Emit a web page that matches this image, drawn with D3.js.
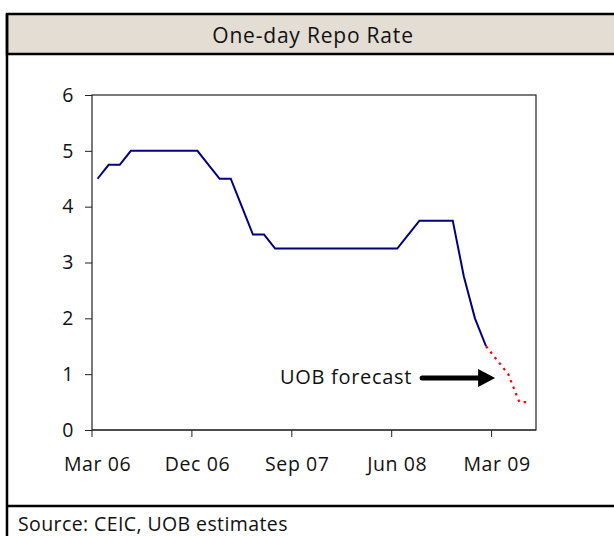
<!DOCTYPE html>
<html lang="en">
<head>
<meta charset="UTF-8">
<title>One-day Repo Rate</title>
<script src="https://d3js.org/d3.v7.min.js"></script>
<style>
  html, body { margin: 0; padding: 0; background: #fff; }
  svg { display: block; font-family: 'Open Sans', sans-serif; }
  text { fill: #111; letter-spacing: 0.6px; }
</style>
</head>
<body>
<div id="chart"></div>
<script>
  // monthly, Mar 06 .. Jun 09
  const startMonth = new Date(2006, 2, 1);
  const endMonth = new Date(2009, 6, 1);
  const tickLabels = ["Mar 06", "Dec 06", "Sep 07", "Jun 08", "Mar 09"];
  const yTicks = [0, 1, 2, 3, 4, 5, 6];

  const actual = [
    4.5, 4.75, 4.75, 5, 5, 5, 5, 5, 5, 5,
    4.75, 4.5, 4.5, 4, 3.5, 3.5, 3.25, 3.25, 3.25, 3.25,
    3.25, 3.25, 3.25, 3.25, 3.25, 3.25, 3.25, 3.25, 3.5, 3.75,
    3.75, 3.75, 3.75, 2.75, 2, 1.5
  ];
  const forecast = [1.5, 1.25, 1, 0.5, 0.5]; // from Feb 09
  const forecastStart = 35;

  const W = 614, H = 536;
  const plot = {left: 92, right: 536, top: 95, bottom: 430};

  const months = d3.timeMonth.range(startMonth, endMonth);
  const fmt = d3.timeFormat("%b %y");

  const svg = d3.select("#chart").append("svg")
    .attr("width", W).attr("height", H);

  // frame + title band
  svg.append("rect").attr("x", 7).attr("y", 14).attr("width", W).attr("height", 40)
    .attr("fill", "#e3ddd4").attr("stroke", "#000").attr("stroke-width", 2.5);
  svg.append("line").attr("x1", 7).attr("x2", 7).attr("y1", 14).attr("y2", H)
    .attr("stroke", "#000").attr("stroke-width", 2.5);
  svg.append("line").attr("x1", 7).attr("x2", W).attr("y1", 506).attr("y2", 506)
    .attr("stroke", "#000").attr("stroke-width", 2.5);

  svg.append("text").attr("x", 313).attr("y", 43).attr("text-anchor", "middle")
    .style("font-size", "21px").style("letter-spacing", "0.8px").text("One-day Repo Rate");

  svg.append("text").attr("x", 18).attr("y", 531)
    .style("font-size", "19.5px").style("letter-spacing", "0.4px").text("Source: CEIC, UOB estimates");

  const x = d3.scaleBand().domain(months.map(d => +d))
    .range([plot.left, plot.right]).padding(0);
  const y = d3.scaleLinear().domain([0, 6]).range([plot.bottom, plot.top]);
  const cx = i => x(+months[i]) + x.bandwidth() / 2;

  // plot border
  svg.append("rect").attr("x", plot.left).attr("y", plot.top)
    .attr("width", plot.right - plot.left).attr("height", plot.bottom - plot.top)
    .attr("fill", "none").attr("stroke", "#222").attr("stroke-width", 1.2);

  // y axis
  const yAxis = svg.append("g").attr("transform", `translate(${plot.left},0)`)
    .call(d3.axisLeft(y).tickValues(yTicks).tickSize(7).tickPadding(11).tickFormat(d3.format("d")));
  yAxis.select(".domain").remove();
  yAxis.selectAll("line").attr("stroke", "#222");
  yAxis.selectAll("text").style("font-size", "19.5px").style("font-family", "'Open Sans', sans-serif").attr("fill", "#111");

  // x axis: ticks at band edges every 9 months, labels centred on the month
  const tickMonths = months.filter(m => tickLabels.includes(fmt(m)));
  const xg = svg.append("g");
  xg.append("line").attr("x1", plot.left).attr("x2", plot.right)
    .attr("y1", plot.bottom).attr("y2", plot.bottom).attr("stroke", "#222").attr("stroke-width", 1.2);
  xg.selectAll(".tk").data(tickMonths).enter().append("line")
    .attr("x1", d => x(+d)).attr("x2", d => x(+d))
    .attr("y1", plot.bottom).attr("y2", plot.bottom + 7).attr("stroke", "#222");
  xg.selectAll(".lb").data(tickMonths).enter().append("text")
    .attr("x", d => x(+d) + x.bandwidth() / 2).attr("y", plot.bottom + 41)
    .attr("text-anchor", "middle").style("font-size", "19.5px")
    .text(d => fmt(d));

  const line = d3.line().x(d => cx(d.i)).y(d => y(d.v));

  svg.append("path")
    .datum(actual.map((v, i) => ({i, v})))
    .attr("d", line).attr("fill", "none")
    .attr("stroke", "#000080").attr("stroke-width", 2);

  svg.append("path")
    .datum(forecast.map((v, i) => ({i: i + forecastStart, v})))
    .attr("d", line).attr("fill", "none")
    .attr("stroke", "#ff0000").attr("stroke-width", 2.2)
    .attr("stroke-dasharray", "2.5,4.5");

  // annotation
  const ay = y(0.93);
  const tipX = cx(36) - 2;
  svg.append("text").attr("x", tipX - 83).attr("y", ay + 6).attr("text-anchor", "end")
    .style("font-size", "20px").style("letter-spacing", "0.7px").text("UOB forecast");
  svg.append("line").attr("x1", tipX - 73).attr("x2", tipX - 14)
    .attr("y1", ay).attr("y2", ay).attr("stroke", "#000").attr("stroke-width", 5)
    .attr("stroke-linecap", "round");
  svg.append("path")
    .attr("d", `M${tipX - 17},${ay - 9}L${tipX},${ay}L${tipX - 17},${ay + 9}Z`)
    .attr("fill", "#000");
</script>
</body>
</html>
